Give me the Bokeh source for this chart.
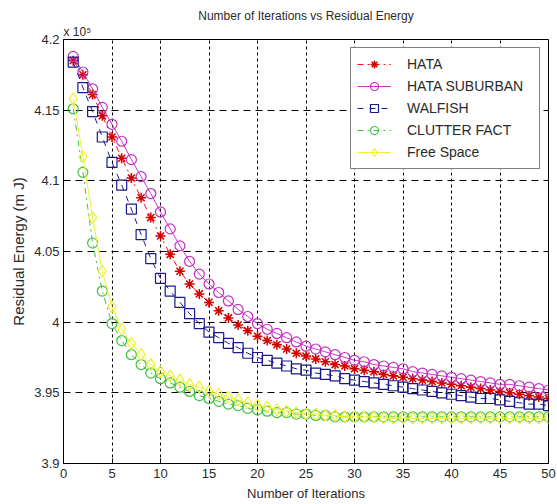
from bokeh.plotting import figure
from bokeh.models import (Legend, LegendItem, FixedTicker, NumeralTickFormatter,
                          Title, Range1d)
from bokeh.embed import file_html
from bokeh.resources import INLINE

iterations = list(range(1, 51))

hata = [4.185, 4.175, 4.161, 4.146, 4.131, 4.116, 4.102, 4.088, 4.074, 4.061,
        4.048, 4.036, 4.027, 4.020, 4.014, 4.008, 4.003, 3.998, 3.994, 3.990,
        3.987, 3.984, 3.981, 3.978, 3.976, 3.974, 3.972, 3.970, 3.969, 3.967,
        3.966, 3.965, 3.963, 3.962, 3.961, 3.960, 3.959, 3.958, 3.957, 3.956,
        3.955, 3.954, 3.953, 3.952, 3.951, 3.950, 3.949, 3.948, 3.947, 3.946]

hata_suburban = [4.188, 4.177, 4.165, 4.152, 4.140, 4.128, 4.115, 4.103, 4.091, 4.078,
                 4.066, 4.054, 4.043, 4.034, 4.027, 4.021, 4.015, 4.009, 4.004, 3.999,
                 3.995, 3.992, 3.989, 3.986, 3.983, 3.981, 3.979, 3.977, 3.975, 3.973,
                 3.972, 3.970, 3.969, 3.968, 3.967, 3.965, 3.964, 3.963, 3.962, 3.961,
                 3.960, 3.959, 3.958, 3.957, 3.956, 3.956, 3.955, 3.954, 3.953, 3.952]

walfish = [4.184, 4.166, 4.149, 4.131, 4.113, 4.097, 4.080, 4.062, 4.045, 4.031,
           4.022, 4.014, 4.006, 3.999, 3.993, 3.989, 3.985, 3.982, 3.978, 3.975,
           3.973, 3.971, 3.969, 3.967, 3.966, 3.964, 3.963, 3.962, 3.960, 3.959,
           3.958, 3.957, 3.956, 3.955, 3.954, 3.953, 3.952, 3.951, 3.950, 3.949,
           3.948, 3.947, 3.946, 3.946, 3.945, 3.944, 3.943, 3.942, 3.942, 3.941]

clutter_fact = [4.151, 4.106, 4.056, 4.022, 3.999, 3.987, 3.977, 3.970, 3.964, 3.960,
                3.957, 3.954, 3.951, 3.948, 3.946, 3.944, 3.942, 3.941, 3.939, 3.938,
                3.937, 3.936, 3.936, 3.935, 3.935, 3.934, 3.934, 3.933, 3.933, 3.933,
                3.933, 3.933, 3.933, 3.933, 3.933, 3.933, 3.933, 3.933, 3.933, 3.933,
                3.933, 3.933, 3.933, 3.933, 3.933, 3.933, 3.933, 3.933, 3.933, 3.933]

free_space = [4.158, 4.117, 4.074, 4.036, 4.011, 3.995, 3.985, 3.977, 3.970, 3.965,
              3.962, 3.959, 3.956, 3.954, 3.951, 3.949, 3.947, 3.945, 3.943, 3.941,
              3.940, 3.938, 3.937, 3.936, 3.935, 3.935, 3.934, 3.934, 3.933, 3.933,
              3.933, 3.933, 3.932, 3.932, 3.932, 3.932, 3.932, 3.932, 3.932, 3.932,
              3.932, 3.932, 3.932, 3.932, 3.932, 3.932, 3.932, 3.932, 3.932, 3.932]

x_ticks = [0, 5, 10, 15, 20, 25, 30, 35, 40, 45, 50]
y_ticks = [3.9, 3.95, 4.0, 4.05, 4.1, 4.15, 4.2]

FONT = "Liberation Sans"
TXT = "#2a2a2a"

p = figure(width=557, height=504, output_backend="svg", toolbar_location=None,
           x_range=Range1d(0, 50), y_range=Range1d(3.9, 4.2),
           min_border_left=63, min_border_right=9, min_border_top=39, min_border_bottom=41,
           title="Number of Iterations vs Residual Energy")
p.background_fill_color = "white"
p.border_fill_color = "white"
p.outline_line_color = "black"
p.outline_line_width = 1

p.title.align = "center"
p.title.text_font = FONT
p.title.text_font_size = "12px"
p.title.text_font_style = "normal"
p.title.text_color = TXT
p.title.standoff = 0

scale_title = Title(text="x 10\u2075", align="left", text_font=FONT, text_font_size="12px",
                    text_font_style="normal", text_color=TXT, standoff=1)
p.add_layout(scale_title, "above")

for ax in (p.xaxis[0], p.yaxis[0]):
    ax.major_tick_in = 5
    ax.major_tick_out = 0
    ax.minor_tick_in = 0
    ax.minor_tick_out = 0
    ax.axis_line_color = "black"
    ax.major_tick_line_color = "black"
    ax.major_label_text_font = FONT
    ax.major_label_text_font_size = "13px"
    ax.major_label_text_color = TXT
    ax.axis_label_text_font = FONT
    ax.axis_label_text_font_size = "13px"
    ax.axis_label_text_font_style = "normal"
    ax.axis_label_text_color = TXT

p.xaxis[0].ticker = FixedTicker(ticks=x_ticks)
p.yaxis[0].ticker = FixedTicker(ticks=y_ticks)
p.yaxis[0].formatter = NumeralTickFormatter(format="0.[00]")
p.xaxis[0].axis_label = "Number of Iterations"
p.yaxis[0].axis_label = "Residual Energy (m J)"
p.xaxis[0].major_label_standoff = 5
p.xaxis[0].axis_label_standoff = 5
p.yaxis[0].major_label_standoff = 4
p.yaxis[0].axis_label_standoff = 4
p.yaxis[0].axis_label_text_font_size = "15px"

p.xgrid.ticker = FixedTicker(ticks=x_ticks)
p.ygrid.ticker = FixedTicker(ticks=y_ticks)
p.xgrid.grid_line_color = "black"
p.ygrid.grid_line_color = "black"
p.xgrid.grid_line_dash = "3 3"
p.ygrid.grid_line_dash = "7 5"
p.xgrid.grid_line_width = 1
p.ygrid.grid_line_width = 1

series = [
    ("HATA", hata, "#ff1010", "dashdot", "asterisk", 10, "#d40000"),
    ("HATA SUBURBAN", hata_suburban, "#cc33cc", "solid", "circle", 10, "#c030c0"),
    ("WALFISH", walfish, "#1a1a8c", "dashed", "square", 10, "#1a1a8c"),
    ("CLUTTER FACT", clutter_fact, "#40c040", "dashdot", "circle", 10, "#40c040"),
    ("Free Space", free_space, "#f0f030", "solid", "diamond", 12, "#f0f030"),
]

items = []
for name, vals, lc, dash, marker, size, mc in series:
    lr = p.line(iterations, vals, line_color=lc, line_dash=dash, line_width=1)
    sr = p.scatter(iterations, vals, marker=marker, size=size, line_color=mc,
                   fill_color=None, line_width=1.5 if marker == "asterisk" else 1.2)
    items.append(LegendItem(label=name, renderers=[lr, sr]))

legend = Legend(items=items, location="top_right", margin=8, padding=6, spacing=2,
                label_height=20, glyph_height=20, glyph_width=34, label_standoff=16,
                label_width=126, border_line_color="black", border_line_width=1,
                background_fill_color="white", background_fill_alpha=1.0,
                label_text_font=FONT, label_text_font_size="14px", label_text_color=TXT)
p.add_layout(legend)

open("out.html", "w").write(file_html(p, INLINE))
